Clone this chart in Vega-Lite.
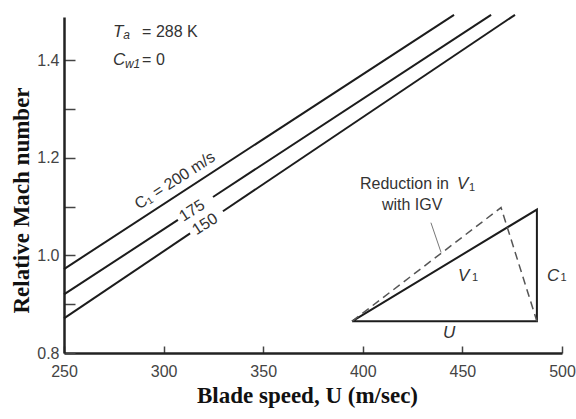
{
  "$schema": "https://vega.github.io/schema/vega-lite/v6.json",
  "width": 498,
  "height": 336,
  "autosize": "none",
  "padding": {"left": 64, "top": 17, "right": 14, "bottom": 66},
  "background": "white",
  "config": {"view": {"stroke": null}, "font": "Liberation Sans"},
  "datasets": {
    "curves": [
      {"id": "200", "U": 250, "M": 0.972},
      {"id": "200", "U": 445.8, "M": 1.493},
      {"id": "175a", "U": 250, "M": 0.92},
      {"id": "175a", "U": 307.2, "M": 1.0727},
      {"id": "175b", "U": 324.8, "M": 1.1197},
      {"id": "175b", "U": 464.4, "M": 1.493},
      {"id": "150a", "U": 250, "M": 0.871},
      {"id": "150a", "U": 313.3, "M": 1.045},
      {"id": "150b", "U": 329.8, "M": 1.0905},
      {"id": "150b", "U": 476.4, "M": 1.493}
    ],
    "triangle": [
      {"o": 1, "U": 394.6, "M": 0.865},
      {"o": 2, "U": 487.4, "M": 0.865},
      {"o": 3, "U": 487.4, "M": 1.094},
      {"o": 4, "U": 394.6, "M": 0.865}
    ],
    "dashed": [
      {"o": 1, "U": 394.6, "M": 0.865},
      {"o": 2, "U": 469.4, "M": 1.098},
      {"o": 3, "U": 487.4, "M": 0.865}
    ],
    "pointer": [
      {"U": 434.2, "M": 1.067},
      {"U": 439.3, "M": 1.006}
    ],
    "curveLabels": [
      {"t": "C₁ = 200 m/s", "U": 305.7, "M": 1.1535},
      {"t": "175", "U": 314.3, "M": 1.0917},
      {"t": "150", "U": 320.8, "M": 1.064}
    ],
    "regular": [
      {"t": "= 288 K", "U": 289.2, "M": 1.4568},
      {"t": "= 0", "U": 289.2, "M": 1.3994},
      {"t": "Reduction in", "U": 398.6, "M": 1.1473},
      {"t": "with IGV", "U": 409.6, "M": 1.1023}
    ],
    "italic": [
      {"t": "T", "U": 274.6, "M": 1.4568},
      {"t": "C", "U": 274.6, "M": 1.3994},
      {"t": "V", "U": 447.3, "M": 1.1473},
      {"t": "V", "U": 447.8, "M": 0.9588},
      {"t": "C", "U": 492.5, "M": 0.9588},
      {"t": "U", "U": 440.3, "M": 0.84}
    ],
    "subItalic": [
      {"t": "a", "U": 279.8, "M": 1.4506},
      {"t": "w1", "U": 280.6, "M": 1.3912}
    ],
    "subRegular": [
      {"t": "1", "U": 453.3, "M": 1.139},
      {"t": "1", "U": 454.8, "M": 0.953},
      {"t": "1", "U": 499.3, "M": 0.953}
    ]
  },
  "encoding": {
    "x": {
      "field": "U", "type": "quantitative",
      "scale": {"domain": [250, 500], "nice": false, "zero": false},
      "axis": {
        "title": "Blade speed, U (m/sec)",
        "values": [250, 300, 350, 400, 450, 500],
        "format": "d",
        "grid": false,
        "tickSize": -7, "tickColor": "#444", "tickWidth": 1.5,
        "domainColor": "#222", "domainWidth": 2.5,
        "labelFont": "Liberation Sans", "labelFontSize": 16, "labelColor": "#444",
        "labelPadding": 17, "labelFlush": false,
        "titleFont": "Liberation Serif", "titleFontSize": 23, "titleFontWeight": "bold",
        "titleColor": "#111", "titlePadding": 5, "titleX": 243
      }
    },
    "y": {
      "field": "M", "type": "quantitative",
      "scale": {"domain": [0.8, 1.4885], "nice": false, "zero": false},
      "axis": {
        "title": "Relative Mach number",
        "values": [0.8, 0.9, 1.0, 1.1, 1.2, 1.3, 1.4],
        "labelExpr": "indexof(['0.8','1.0','1.2','1.4'], format(datum.value, '.1f')) >= 0 ? format(datum.value, '.1f') : ''",
        "grid": false,
        "tickSize": -11, "tickColor": "#444", "tickWidth": 1.5,
        "domainColor": "#222", "domainWidth": 2.5,
        "labelFont": "Liberation Sans", "labelFontSize": 16, "labelColor": "#444",
        "labelPadding": 16, "labelFlush": false,
        "titleFont": "Liberation Serif", "titleFontSize": 23, "titleFontWeight": "bold",
        "titleColor": "#111", "titlePadding": 3, "titleY": 183
      }
    }
  },
  "layer": [
    {
      "data": {"name": "curves"},
      "mark": {"type": "line", "color": "#1c1c1c", "strokeWidth": 2},
      "encoding": {"detail": {"field": "id"}}
    },
    {
      "data": {"name": "triangle"},
      "mark": {"type": "line", "color": "#1c1c1c", "strokeWidth": 2},
      "encoding": {"order": {"field": "o"}}
    },
    {
      "data": {"name": "dashed"},
      "mark": {"type": "line", "color": "#555", "strokeWidth": 1.5, "strokeDash": [8, 5]},
      "encoding": {"order": {"field": "o"}}
    },
    {
      "data": {"name": "pointer"},
      "mark": {"type": "line", "color": "#777", "strokeWidth": 1},
      "encoding": {}
    },
    {
      "data": {"name": "curveLabels"},
      "mark": {"type": "text", "angle": -33, "fontSize": 16, "color": "#333", "align": "center", "baseline": "middle", "font": "Liberation Sans"},
      "encoding": {"text": {"field": "t"}}
    },
    {
      "data": {"name": "regular"},
      "mark": {"type": "text", "fontSize": 16, "color": "#333", "align": "left", "baseline": "middle", "font": "Liberation Sans"},
      "encoding": {"text": {"field": "t"}}
    },
    {
      "data": {"name": "italic"},
      "mark": {"type": "text", "fontSize": 17, "fontStyle": "italic", "color": "#333", "align": "left", "baseline": "middle", "font": "Liberation Sans"},
      "encoding": {"text": {"field": "t"}}
    },
    {
      "data": {"name": "subItalic"},
      "mark": {"type": "text", "fontSize": 12, "fontStyle": "italic", "color": "#333", "align": "left", "baseline": "middle", "font": "Liberation Sans"},
      "encoding": {"text": {"field": "t"}}
    },
    {
      "data": {"name": "subRegular"},
      "mark": {"type": "text", "fontSize": 11, "color": "#333", "align": "left", "baseline": "middle", "font": "Liberation Sans"},
      "encoding": {"text": {"field": "t"}}
    }
  ]
}
